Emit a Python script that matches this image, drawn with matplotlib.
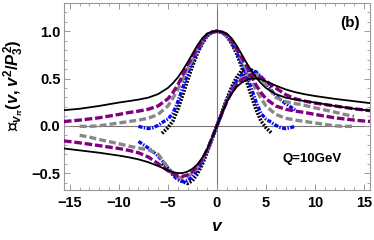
import matplotlib
matplotlib.use("Agg")
import matplotlib.pyplot as plt
from matplotlib.ticker import MultipleLocator

plt.rcParams['font.family'] = ['Liberation Sans', 'DejaVu Sans']
plt.rcParams['font.weight'] = 'bold'
plt.rcParams['mathtext.fontset'] = 'custom'
plt.rcParams['mathtext.rm'] = 'Liberation Sans:bold'
plt.rcParams['mathtext.it'] = 'Liberation Sans:bold:italic'
plt.rcParams['mathtext.bf'] = 'Liberation Sans:bold'
plt.rcParams['mathtext.fallback'] = 'stix'
plt.rcParams['lines.scale_dashes'] = False

# full-range curves (black solid, purple dashed)
v_full = [-15.6, -14, -12, -10, -9, -8, -7, -6, -5, -4.5, -4, -3.5, -3, -2.5, -2, -1.5, -1, -0.5, 0,
          0.5, 1, 1.5, 2, 2.5, 3, 3.5, 4, 4.5, 5, 6, 7, 8, 9, 10, 12, 14, 15.6]
black_re = [0.165, 0.18, 0.21, 0.246, 0.261, 0.277, 0.298, 0.335, 0.40, 0.45, 0.51, 0.585, 0.67, 0.76,
            0.85, 0.925, 0.975, 0.996, 1.0, 0.996, 0.975, 0.925, 0.85, 0.76, 0.67, 0.585, 0.51, 0.45,
            0.40, 0.335, 0.298, 0.277, 0.261, 0.246, 0.21, 0.18, 0.16]
black_im = [-0.24, -0.26, -0.285, -0.315, -0.333, -0.355, -0.385, -0.425, -0.47, -0.49, -0.50, -0.50,
            -0.485, -0.455, -0.41, -0.34, -0.25, -0.13, 0.0, 0.13, 0.25, 0.34, 0.41, 0.455, 0.485, 0.50,
            0.50, 0.49, 0.47, 0.425, 0.385, 0.355, 0.333, 0.315, 0.285, 0.26, 0.24]
purple_re = [0.045, 0.06, 0.085, 0.12, 0.14, 0.155, 0.175, 0.21, 0.285, 0.35, 0.43, 0.53, 0.64, 0.725,
             0.815, 0.90, 0.965, 0.99, 1.0, 0.99, 0.965, 0.90, 0.815, 0.725, 0.64, 0.53, 0.43, 0.35,
             0.285, 0.21, 0.175, 0.155, 0.14, 0.12, 0.085, 0.06, 0.045]
purple_im = [-0.16, -0.18, -0.21, -0.24, -0.26, -0.285, -0.33, -0.40, -0.475, -0.51, -0.53, -0.535,
             -0.52, -0.485, -0.43, -0.355, -0.255, -0.13, 0.0, 0.13, 0.255, 0.355, 0.43, 0.485, 0.52,
             0.535, 0.53, 0.51, 0.475, 0.40, 0.33, 0.285, 0.26, 0.24, 0.21, 0.18, 0.16]

# gray dashed
v_gray = [-14, -13, -12, -10, -9, -8, -7, -6, -5, -4.5, -4, -3.5, -3, -2.5, -2, -1.5, -1, -0.5, 0,
          0.5, 1, 1.5, 2, 2.5, 3, 3.5, 4, 4.5, 5, 6, 7, 8, 9, 10, 12, 13, 14]
gray_re = [-0.005, -0.007, 0.0, 0.03, 0.045, 0.06, 0.08, 0.12, 0.21, 0.29, 0.38, 0.49, 0.60, 0.70,
           0.80, 0.89, 0.96, 0.99, 1.0, 0.99, 0.96, 0.89, 0.80, 0.70, 0.60, 0.49, 0.38, 0.29, 0.21,
           0.12, 0.08, 0.06, 0.045, 0.03, 0.0, -0.007, -0.005]
gray_im = [-0.10, -0.12, -0.145, -0.19, -0.215, -0.235, -0.255, -0.30, -0.44, -0.50, -0.545, -0.55,
           -0.535, -0.50, -0.44, -0.36, -0.26, -0.13, 0.0, 0.13, 0.26, 0.36, 0.44, 0.50, 0.535, 0.55,
           0.545, 0.50, 0.44, 0.30, 0.255, 0.235, 0.215, 0.19, 0.145, 0.12, 0.10]

# blue dash-dot
v_blue = [-8, -7.5, -7, -6.5, -6, -5.5, -5, -4.5, -4, -3.5, -3, -2.5, -2, -1.5, -1, -0.5, 0,
          0.5, 1, 1.5, 2, 2.5, 3, 3.5, 4, 4.5, 5, 5.5, 6, 6.5, 7, 7.5, 8]
blue_re = [-0.005, -0.02, -0.03, -0.02, 0.005, 0.04, 0.07, 0.13, 0.25, 0.40, 0.55, 0.67, 0.78, 0.88,
           0.955, 0.99, 1.0, 0.99, 0.955, 0.88, 0.78, 0.67, 0.55, 0.40, 0.25, 0.13, 0.07, 0.04, 0.005,
           -0.02, -0.03, -0.02, -0.005]
blue_im = [-0.165, -0.20, -0.235, -0.275, -0.32, -0.38, -0.45, -0.52, -0.57, -0.59, -0.58, -0.54,
           -0.47, -0.38, -0.27, -0.135, 0.0, 0.135, 0.27, 0.38, 0.47, 0.54, 0.58, 0.59, 0.57, 0.52,
           0.45, 0.38, 0.32, 0.275, 0.235, 0.20, 0.165]

# black dotted
v_dot = [-5.6, -5, -4.5, -4, -3.5, -3, -2.5, -2, -1.5, -1, -0.5, 0,
         0.5, 1, 1.5, 2, 2.5, 3, 3.5, 4, 4.5, 5, 5.6]
dot_re = [-0.08, -0.02, 0.05, 0.17, 0.32, 0.48, 0.63, 0.765, 0.87, 0.95, 0.99, 1.0,
          0.99, 0.95, 0.87, 0.765, 0.63, 0.48, 0.32, 0.17, 0.05, -0.02, -0.08]
dot_im = [-0.40, -0.45, -0.50, -0.55, -0.59, -0.61, -0.58, -0.51, -0.41, -0.28, -0.14, 0.0,
          0.14, 0.28, 0.41, 0.51, 0.58, 0.61, 0.59, 0.55, 0.50, 0.45, 0.40]

fig = plt.figure(figsize=(3.74, 2.40), dpi=100)
ax = fig.add_axes([0.171, 0.208, 0.818, 0.78])

ax.axhline(0, color='#777777', lw=0.8, zorder=1)
ax.axvline(0, color='#777777', lw=0.8, zorder=1)

for y in (dot_re, dot_im):
    ax.plot(v_dot, y, color='black', lw=2.6, dashes=(1.3, 1.0), zorder=2)
for y in (blue_re, blue_im):
    ax.plot(v_blue, y, color='#0a0af0', lw=2.4, dashes=(3.0, 1.0, 1.0, 1.0), zorder=3)
for y in (gray_re, gray_im):
    ax.plot(v_gray, y, color='#888888', lw=2.4, dashes=(5.0, 2.2), zorder=4)
for y in (purple_re, purple_im):
    ax.plot(v_full, y, color='#800080', lw=2.4, dashes=(5.5, 2.0), zorder=5)
for y in (black_re, black_im):
    ax.plot(v_full, y, color='black', lw=1.3, zorder=6)

ax.set_xlim(-15.6, 15.6)
ax.set_ylim(-0.68, 1.3)
ax.xaxis.set_minor_locator(MultipleLocator(1))
ax.yaxis.set_minor_locator(MultipleLocator(0.1))
ax.set_yticks([-0.5, 0.0, 0.5, 1.0])
ax.set_yticklabels(['\u22120.5', '0.0', '0.5', '1.0'])
ax.set_xticks([-15, -10, -5, 0, 5, 10, 15])
ax.set_xticklabels(['\u221215', '\u221210', '\u22125', '0', '5', '10', '15'])
ax.tick_params(which='both', direction='in', color='#999999', top=True, right=True)
ax.tick_params(which='major', length=4, width=0.7, labelsize=10.5)
ax.tick_params(axis='y', which='major', pad=2.5)
ax.tick_params(axis='x', which='major', pad=4)
ax.tick_params(which='minor', length=2, width=0.6)
for s in ax.spines.values():
    s.set_color('#999999')
    s.set_linewidth(0.8)

ax.set_xlabel(r'$v$', fontsize=12.5, labelpad=7)
ax.set_ylabel(r'$\mathfrak{m}_{v_\pi}(v,v^2/P_3^2)$', fontsize=12)
ax.yaxis.set_label_coords(-0.125, 0.56)

ax.text(0.935, 0.89, '(b)', transform=ax.transAxes, fontsize=11, fontweight='bold',
        ha='center', va='center')
ax.text(0.81, 0.165, 'Q=10GeV', transform=ax.transAxes, fontsize=9.5, fontweight='bold',
        ha='center', va='center')

fig.savefig('out.png', dpi=100)
